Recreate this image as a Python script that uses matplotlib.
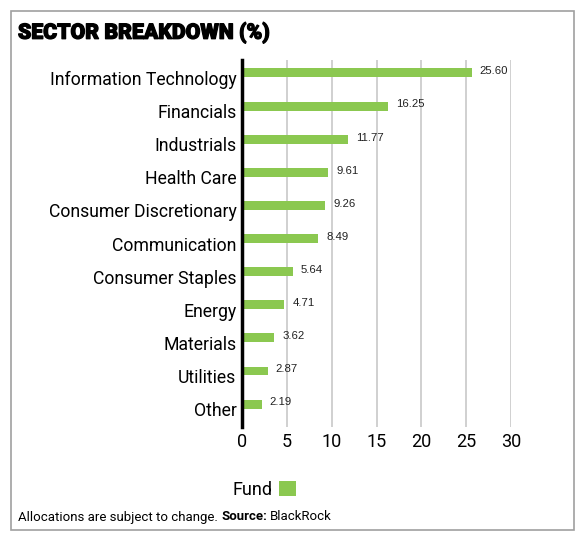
import matplotlib
matplotlib.use("Agg")
from matplotlib import pyplot as plt
from matplotlib import patches
from matplotlib import patheffects
from matplotlib.transforms import ScaledTranslation

sectors = ["Information Technology", "Financials", "Industrials", "Health Care",
           "Consumer Discretionary", "Communication", "Consumer Staples", "Energy",
           "Materials", "Utilities", "Other"]
fund = [25.60, 16.25, 11.77, 9.61, 9.26, 8.49, 5.64, 4.71, 3.62, 2.87, 2.19]
xticks = [0, 5, 10, 15, 20, 25, 30]

green = '#8bc850'
plt.rcParams['font.family'] = ['Roboto', 'DejaVu Sans']

W, H = 588, 543
fig = plt.figure(figsize=(W / 100, H / 100), dpi=100)

# outer frame
fig.add_artist(patches.Rectangle((11 / W, 1 - 530 / H), 563 / W, 519 / H, transform=fig.transFigure,
                                 facecolor='none', edgecolor='#a0a0a0', linewidth=1.2))

# title, thickened a bit to look like the heavy original
fig.text(18 / W, 1 - 33 / H, "SECTOR BREAKDOWN (%)", fontsize=15.3, fontweight='black', va='center', ha='left',
         path_effects=[patheffects.withStroke(linewidth=0.9, foreground='black')])

ax = fig.add_axes([242 / W, 1 - 427 / H, (511 - 242) / W, (427 - 60) / H])
ypos = list(range(len(sectors)))
ax.barh(ypos, fund, height=0.27, color=green, label='Fund', zorder=3)
for y, v in zip(ypos, fund):
    ax.text(v + 0.9, y - 0.05, f"{v:.2f}", fontsize=8.2, va='center', ha='left',
            family=['Liberation Sans', 'DejaVu Sans'], color='#222222')

ax.set_xlim(0, 30)
ax.set_ylim(10.69, -0.39)
ax.set_yticks(ypos)
ax.set_yticklabels(sectors, fontsize=12.7)
ax.set_xticks(xticks)
ax.set_xticklabels([str(t) for t in xticks], fontsize=13)
ax.tick_params(axis='both', length=0, pad=4)
shift = ScaledTranslation(0, -5 / 100, fig.dpi_scale_trans)
for lbl in ax.get_yticklabels():
    lbl.set_transform(lbl.get_transform() + shift)
ax.xaxis.grid(True, color='#c8c8c8', linewidth=1.2, zorder=0)
ax.set_axisbelow(True)
for s in ['top', 'right', 'bottom']:
    ax.spines[s].set_visible(False)
ax.spines['left'].set_linewidth(2.5)
ax.spines['left'].set_color('black')
ax.spines['left'].set_zorder(4)

leg = fig.legend(loc='center', bbox_to_anchor=(264 / W, 1 - 490 / H), frameon=False, markerfirst=False,
                 fontsize=13, handlelength=0.9, handleheight=0.9, handletextpad=0.4)

t1 = fig.text(18 / W, 1 - 517 / H, "Allocations are subject to change. ", fontsize=9.5, va='center', ha='left')
fig.canvas.draw()
fig.text(t1.get_window_extent().x1 / W, 1 - 517 / H, "Source:", fontsize=9.5, fontweight='bold',
         va='center', ha='left')
t2 = fig.texts[-1]
fig.canvas.draw()
fig.text(t2.get_window_extent().x1 / W + 3 / W, 1 - 517 / H, "BlackRock", fontsize=9.5, va='center', ha='left')
fig.savefig('out.png', dpi=100)
